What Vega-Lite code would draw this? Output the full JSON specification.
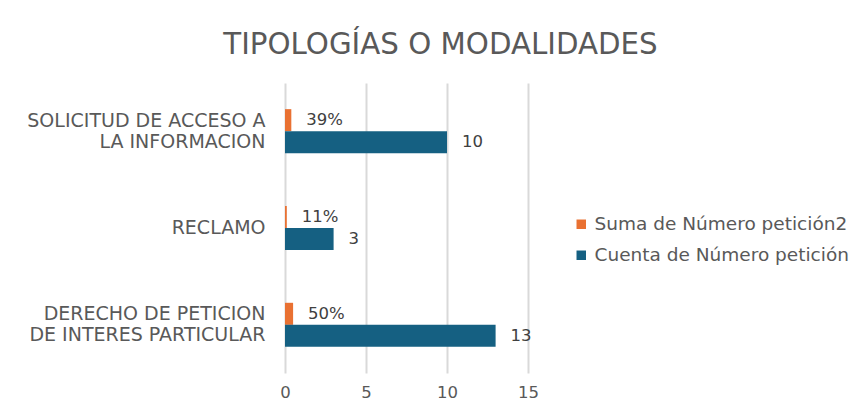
{
  "$schema": "https://vega.github.io/schema/vega-lite/v6.json",
  "width": 243,
  "height": 290,
  "autosize": {"type": "none"},
  "padding": {"left": 285, "top": 83, "right": 336, "bottom": 36},
  "background": "white",
  "title": {
    "text": "TIPOLOGÍAS O MODALIDADES",
    "anchor": "middle",
    "frame": "group",
    "dx": 34,
    "offset": 23,
    "fontSize": 29.3,
    "font": "DejaVu Sans",
    "fontWeight": "normal",
    "color": "#595959"
  },
  "data": {
    "values": [
      {"tipo": "SOLICITUD DE ACCESO A|LA INFORMACION", "serie": "Suma de Número petición2", "valor": 0.39, "etiqueta": "39%"},
      {"tipo": "SOLICITUD DE ACCESO A|LA INFORMACION", "serie": "Cuenta de Número petición", "valor": 10, "etiqueta": "10"},
      {"tipo": "RECLAMO", "serie": "Suma de Número petición2", "valor": 0.11, "etiqueta": "11%"},
      {"tipo": "RECLAMO", "serie": "Cuenta de Número petición", "valor": 3, "etiqueta": "3"},
      {"tipo": "DERECHO DE PETICION|DE INTERES PARTICULAR", "serie": "Suma de Número petición2", "valor": 0.5, "etiqueta": "50%"},
      {"tipo": "DERECHO DE PETICION|DE INTERES PARTICULAR", "serie": "Cuenta de Número petición", "valor": 13, "etiqueta": "13"}
    ]
  },
  "encoding": {
    "y": {
      "field": "tipo",
      "type": "nominal",
      "sort": ["SOLICITUD DE ACCESO A|LA INFORMACION", "RECLAMO", "DERECHO DE PETICION|DE INTERES PARTICULAR"],
      "scale": {"paddingInner": 0.545, "paddingOuter": 0.27},
      "axis": {
        "title": null,
        "labelExpr": "split(datum.label, '|')",
        "labelOffset": {"condition": {"test": "indexof(datum.value, '|') >= 0", "value": -10.5}, "value": 0},
        "domain": false,
        "ticks": false,
        "labelFont": "DejaVu Sans",
        "labelFontSize": 19,
        "labelColor": "#595959",
        "labelPadding": 20,
        "labelLineHeight": 21,
        "labelLimit": 300
      }
    },
    "yOffset": {
      "field": "serie",
      "type": "nominal",
      "sort": ["Suma de Número petición2", "Cuenta de Número petición"],
      "scale": {"paddingInner": 0, "paddingOuter": 0}
    },
    "x": {
      "field": "valor",
      "type": "quantitative",
      "scale": {"domain": [0, 15], "nice": false},
      "axis": {
        "values": [0, 5, 10, 15],
        "title": null,
        "domain": false,
        "ticks": false,
        "grid": true,
        "gridColor": "#d9d9d9",
        "gridWidth": 2,
        "labelFlush": false,
        "labelFont": "DejaVu Sans",
        "labelFontSize": 16.5,
        "labelColor": "#595959",
        "labelPadding": 11
      }
    }
  },
  "layer": [
    {
      "mark": {"type": "bar"},
      "encoding": {
        "color": {
          "field": "serie",
          "type": "nominal",
          "sort": ["Suma de Número petición2", "Cuenta de Número petición"],
          "scale": {"domain": ["Suma de Número petición2", "Cuenta de Número petición"], "range": ["#E97132", "#156082"]},
          "legend": {
            "title": null,
            "orient": "none",
            "legendX": 287,
            "legendY": 132,
            "symbolType": "square",
            "symbolSize": 90,
            "symbolStrokeWidth": 0,
            "labelFont": "DejaVu Sans",
            "labelFontSize": 18.5,
            "labelColor": "#595959",
            "labelOffset": 4,
            "rowPadding": 12,
            "labelLimit": 400
          }
        }
      }
    },
    {
      "mark": {"type": "text", "align": "left", "baseline": "middle", "dx": 15, "font": "DejaVu Sans", "fontSize": 16.5, "color": "#404040"},
      "encoding": {"text": {"field": "etiqueta"}}
    }
  ],
  "config": {"view": {"stroke": null}}
}
